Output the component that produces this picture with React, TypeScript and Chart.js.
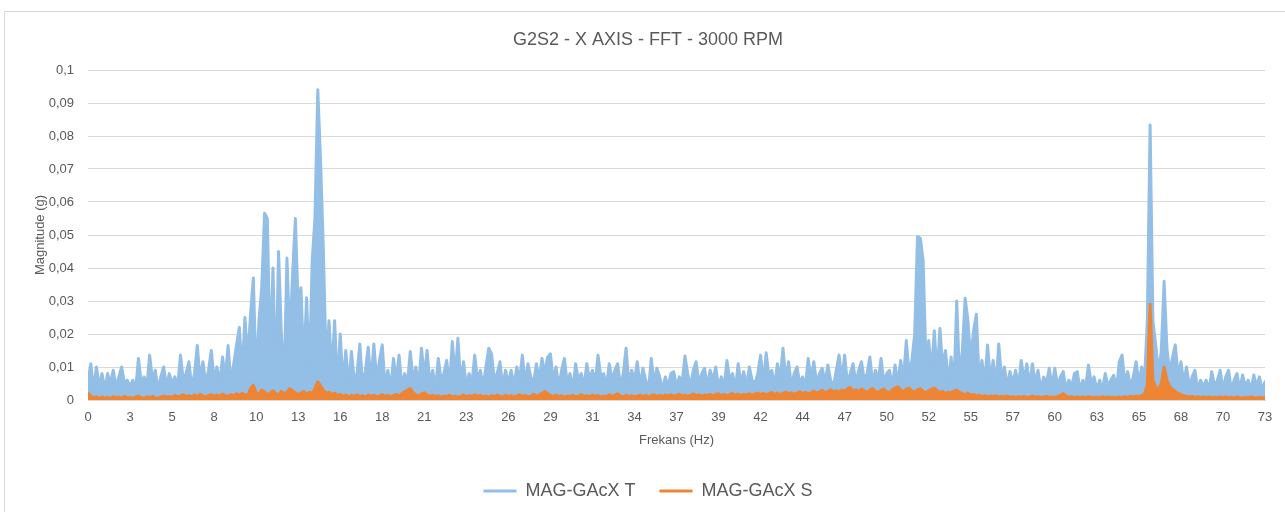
import React, { useEffect, useRef } from 'react';
import { Chart, registerables } from 'chart.js';

Chart.register(...registerables);

const TITLE = 'G2S2 - X AXIS - FFT - 3000 RPM';
const X_TITLE = 'Frekans (Hz)';
const Y_TITLE = 'Magnitude (g)';
const SERIES_NAMES = ['MAG-GAcX T', 'MAG-GAcX S'];
const FREQ_MAX = 73;
const Y_MAX = 0.1;

const X_TICK_LABELS = ['0', '3', '5', '8', '10', '13', '16', '18', '21', '23', '26', '29', '31', '34', '37', '39', '42', '44', '47', '50', '52', '55', '57', '60', '63', '65', '68', '70', '73'];
const Y_TICK_LABELS = ['0', '0,01', '0,02', '0,03', '0,04', '0,05', '0,06', '0,07', '0,08', '0,09', '0,1'];

// MAG-GAcX T : FFT magnitude (g), bins evenly spread over 0..73 Hz
const MAG_T = [
  0.006, 0.011, 0.003, 0.010, 0.004, 0.008, 0.003, 0.008, 0.005, 0.009, 0.004, 0.007, 0.010, 0.005, 0.006, 0.004,
  0.006, 0.003, 0.0126, 0.005, 0.007, 0.004, 0.0136, 0.006, 0.009, 0.003, 0.007, 0.010, 0.004, 0.008, 0.005,
  0.007, 0.004, 0.0136, 0.006, 0.008, 0.0116, 0.004, 0.008, 0.0165, 0.006, 0.0116, 0.005, 0.009, 0.015, 0.006,
  0.010, 0.005, 0.013, 0.007, 0.0165, 0.005, 0.011, 0.0167, 0.022, 0.008, 0.025, 0.012, 0.026, 0.037, 0.006,
  0.024, 0.034, 0.0566, 0.055, 0.012, 0.040, 0.004, 0.045, 0.020, 0.006, 0.043, 0.018, 0.038, 0.055, 0.028,
  0.034, 0.010, 0.031, 0.008, 0.042, 0.0555, 0.094, 0.072, 0.045, 0.010, 0.024, 0.008, 0.024, 0.004, 0.020,
  0.005, 0.015, 0.004, 0.0147, 0.006, 0.008, 0.017, 0.004, 0.009, 0.016, 0.005, 0.017, 0.006, 0.012, 0.0167,
  0.004, 0.009, 0.003, 0.0126, 0.006, 0.0136, 0.004, 0.008, 0.005, 0.0147, 0.006, 0.010, 0.004, 0.0157, 0.007,
  0.015, 0.005, 0.009, 0.003, 0.0126, 0.006, 0.008, 0.012, 0.004, 0.0177, 0.007, 0.0187, 0.005, 0.0116, 0.004,
  0.008, 0.005, 0.0136, 0.006, 0.009, 0.004, 0.010, 0.0157, 0.014, 0.006, 0.008, 0.0116, 0.004, 0.009, 0.005,
  0.009, 0.004, 0.010, 0.006, 0.0136, 0.005, 0.011, 0.007, 0.005, 0.011, 0.006, 0.0126, 0.008, 0.013, 0.014,
  0.006, 0.010, 0.004, 0.009, 0.0126, 0.005, 0.008, 0.003, 0.011, 0.006, 0.008, 0.004, 0.011, 0.006, 0.009,
  0.005, 0.0136, 0.007, 0.008, 0.004, 0.011, 0.006, 0.009, 0.011, 0.004, 0.008, 0.0157, 0.005, 0.009, 0.006,
  0.0116, 0.004, 0.0096, 0.006, 0.003, 0.0126, 0.005, 0.0096, 0.007, 0.003, 0.007, 0.004, 0.008, 0.0086, 0.004,
  0.007, 0.005, 0.0133, 0.008, 0.004, 0.009, 0.0116, 0.005, 0.008, 0.0096, 0.004, 0.009, 0.006, 0.010, 0.004,
  0.007, 0.004, 0.012, 0.006, 0.008, 0.003, 0.011, 0.005, 0.0086, 0.004, 0.010, 0.006, 0.005, 0.008, 0.0136,
  0.005, 0.0143, 0.007, 0.009, 0.004, 0.011, 0.006, 0.0157, 0.006, 0.0116, 0.004, 0.008, 0.010, 0.005, 0.007,
  0.004, 0.0126, 0.006, 0.0116, 0.005, 0.008, 0.0096, 0.005, 0.0106, 0.006, 0.004, 0.009, 0.0136, 0.006, 0.0136,
  0.005, 0.008, 0.011, 0.005, 0.009, 0.0116, 0.006, 0.008, 0.013, 0.005, 0.009, 0.006, 0.0126, 0.005, 0.008,
  0.009, 0.004, 0.0106, 0.005, 0.012, 0.006, 0.018, 0.008, 0.012, 0.020, 0.0495, 0.049, 0.0424, 0.012, 0.018,
  0.008, 0.021, 0.007, 0.0217, 0.010, 0.015, 0.005, 0.013, 0.004, 0.030, 0.006, 0.015, 0.0308, 0.024, 0.012,
  0.021, 0.026, 0.006, 0.012, 0.005, 0.0167, 0.006, 0.012, 0.004, 0.017, 0.006, 0.010, 0.004, 0.0086, 0.005,
  0.009, 0.004, 0.012, 0.006, 0.011, 0.004, 0.011, 0.005, 0.009, 0.003, 0.007, 0.005, 0.0096, 0.004, 0.0096,
  0.004, 0.007, 0.0086, 0.003, 0.006, 0.004, 0.008, 0.0086, 0.003, 0.006, 0.004, 0.0106, 0.005, 0.007, 0.003,
  0.006, 0.003, 0.008, 0.004, 0.006, 0.0075, 0.003, 0.0116, 0.0136, 0.005, 0.0086, 0.004, 0.007, 0.0116, 0.005,
  0.010, 0.006, 0.0237, 0.0833, 0.024, 0.0167, 0.008, 0.015, 0.036, 0.0157, 0.008, 0.013, 0.0167, 0.007, 0.0116,
  0.005, 0.010, 0.004, 0.007, 0.009, 0.003, 0.006, 0.004, 0.006, 0.003, 0.0086, 0.004, 0.006, 0.009, 0.003,
  0.007, 0.009, 0.003, 0.006, 0.008, 0.003, 0.0076, 0.004, 0.006, 0.003, 0.0076, 0.004, 0.007, 0.003, 0.0055,
];

// MAG-GAcX S : FFT magnitude (g), bins evenly spread over 0..73 Hz
const MAG_S = [
  0.002, 0.0012, 0.0006, 0.001, 0.0004, 0.0009, 0.0005, 0.0008, 0.0004, 0.001, 0.0006, 0.0009, 0.0005, 0.0011, 0.0006, 0.0008,
  0.0005, 0.0009, 0.0012, 0.0007, 0.0005, 0.001, 0.0007, 0.0011, 0.0006, 0.0005, 0.0009, 0.0012, 0.0008, 0.0011, 0.0007,
  0.0014, 0.0009, 0.0012, 0.0016, 0.001, 0.0013, 0.0009, 0.0015, 0.0011, 0.0017, 0.0012, 0.0009, 0.0014, 0.0016, 0.0011,
  0.0015, 0.001, 0.0018, 0.0013, 0.0011, 0.0016, 0.0012, 0.0019, 0.0014, 0.002, 0.0016, 0.0013, 0.0035, 0.0045, 0.0022,
  0.0018, 0.003, 0.0024, 0.0016, 0.0021, 0.0028, 0.0019, 0.0015, 0.0026, 0.0018, 0.0024, 0.0034, 0.0027, 0.0022, 0.0016,
  0.0021, 0.0026, 0.0017, 0.0023, 0.002, 0.0035, 0.0055, 0.0042, 0.003, 0.0019, 0.0024, 0.0016, 0.0021, 0.0013, 0.0017,
  0.0011, 0.0015, 0.0009, 0.0014, 0.0011, 0.0016, 0.001, 0.0013, 0.0008, 0.0015, 0.0011, 0.0014, 0.0009, 0.0012, 0.0016,
  0.0011, 0.0014, 0.0009, 0.0013, 0.0017, 0.0012, 0.0019, 0.0025, 0.003, 0.0035, 0.0022, 0.0016, 0.0012, 0.0018, 0.0022,
  0.0015, 0.0011, 0.0014, 0.001, 0.0013, 0.0008, 0.0012, 0.001, 0.0014, 0.0009, 0.0012, 0.0008, 0.0011, 0.0015, 0.0009,
  0.0013, 0.001, 0.0016, 0.0011, 0.0014, 0.0009, 0.0012, 0.0008, 0.0013, 0.001, 0.0015, 0.0011, 0.0009, 0.0014, 0.001,
  0.0013, 0.0009, 0.0012, 0.0016, 0.0011, 0.0014, 0.0009, 0.0012, 0.0017, 0.0012, 0.0015, 0.002, 0.0026, 0.0019, 0.0014,
  0.001, 0.0015, 0.0009, 0.0013, 0.0008, 0.0012, 0.001, 0.0014, 0.0009, 0.0012, 0.0016, 0.001, 0.0013, 0.0009, 0.0015,
  0.0011, 0.0014, 0.0008, 0.0012, 0.001, 0.0016, 0.0011, 0.0014, 0.0019, 0.0012, 0.0009, 0.0014, 0.001, 0.0013, 0.0009,
  0.0012, 0.0015, 0.001, 0.0014, 0.0009, 0.0013, 0.0016, 0.0011, 0.0014, 0.001, 0.0015, 0.0012, 0.0016, 0.0011, 0.0014,
  0.0017, 0.0012, 0.0015, 0.001, 0.0014, 0.0018, 0.0012, 0.0016, 0.0011, 0.0015, 0.0013, 0.0017, 0.0012, 0.0016, 0.0019,
  0.0013, 0.0017, 0.0012, 0.0016, 0.002, 0.0014, 0.0018, 0.0013, 0.0017, 0.0015, 0.0019, 0.0014, 0.0018, 0.0021, 0.0016,
  0.002, 0.0015, 0.0019, 0.0023, 0.0017, 0.0021, 0.0016, 0.002, 0.0024, 0.0018, 0.0022, 0.0017, 0.0021, 0.0025, 0.0019,
  0.0023, 0.0018, 0.0022, 0.0027, 0.002, 0.0025, 0.0029, 0.0022, 0.0026, 0.0031, 0.0024, 0.0028, 0.0023, 0.003, 0.0026,
  0.0034, 0.0038, 0.0027, 0.0031, 0.0024, 0.0033, 0.0028, 0.0022, 0.003, 0.0035, 0.0026, 0.0023, 0.0029, 0.0033, 0.0025,
  0.0022, 0.0031, 0.0036, 0.004, 0.003, 0.0025, 0.0033, 0.0036, 0.0027, 0.0023, 0.0031, 0.0034, 0.0026, 0.0022, 0.0028,
  0.0033, 0.0036, 0.0028, 0.0022, 0.0026, 0.0019, 0.0024, 0.0021, 0.0027, 0.003, 0.0023, 0.0019, 0.0016, 0.0021, 0.0014,
  0.0017, 0.0012, 0.0015, 0.001, 0.0013, 0.0009, 0.0012, 0.001, 0.0013, 0.0008, 0.0011, 0.0009, 0.0012, 0.0008, 0.001,
  0.0007, 0.001, 0.0008, 0.0011, 0.0007, 0.0009, 0.0012, 0.0008, 0.001, 0.0007, 0.0009, 0.0011, 0.0007, 0.0009, 0.0008,
  0.001, 0.0014, 0.0019, 0.0012, 0.0008, 0.001, 0.0007, 0.0009, 0.0006, 0.0009, 0.0007, 0.001, 0.0008, 0.0006, 0.0009,
  0.0007, 0.001, 0.0006, 0.0009, 0.0007, 0.0008, 0.0006, 0.0009, 0.0007, 0.001, 0.0008, 0.0011, 0.0009, 0.0012, 0.001,
  0.0013, 0.0018, 0.0045, 0.029, 0.006, 0.004, 0.003, 0.005, 0.010, 0.006, 0.004, 0.0032, 0.0026, 0.002, 0.0016,
  0.0013, 0.0011, 0.0009, 0.0011, 0.0008, 0.001, 0.0007, 0.0009, 0.0006, 0.0009, 0.0007, 0.0008, 0.0006, 0.0009, 0.0007,
  0.0009, 0.0006, 0.0008, 0.0006, 0.0009, 0.0007, 0.0006, 0.0008, 0.0006, 0.0009, 0.0007, 0.0006, 0.0008, 0.0006, 0.0007,
];

const COLOR_T = '#93BEE5';
const COLOR_S = '#EE8534';
const TEXT_COLOR = '#595959';
const GRID_COLOR = '#D9D9D9';
const FONT = "'Liberation Sans', Arial, sans-serif";

const toPoints = (vals: number[]) =>
  vals.map((y, i) => ({ x: (i * FREQ_MAX) / (vals.length - 1), y }));

export default function App() {
  const canvasRef = useRef<HTMLCanvasElement | null>(null);

  useEffect(() => {
    const canvas = canvasRef.current;
    if (!canvas) return;
    const chart = new Chart(canvas, {
      type: 'line',
      data: {
        datasets: [
          {
            label: SERIES_NAMES[0],
            data: toPoints(MAG_T),
            borderColor: COLOR_T,
            backgroundColor: COLOR_T,
            borderWidth: 3,
            pointRadius: 0,
            tension: 0,
            fill: 'origin',
            borderJoinStyle: 'round',
            borderCapStyle: 'round',
            order: 2,
          },
          {
            label: SERIES_NAMES[1],
            data: toPoints(MAG_S),
            borderColor: COLOR_S,
            backgroundColor: COLOR_S,
            borderWidth: 3,
            pointRadius: 0,
            tension: 0,
            fill: 'origin',
            borderJoinStyle: 'round',
            borderCapStyle: 'round',
            order: 1,
          },
        ],
      },
      options: {
        responsive: false,
        animation: false,
        devicePixelRatio: 1,
        layout: { padding: { left: 31, right: 20, top: 0, bottom: 2 } },
        plugins: {
          title: {
            display: true,
            text: TITLE,
            color: TEXT_COLOR,
            font: { family: FONT, size: 18, weight: 'normal' },
            padding: { top: 29.2, bottom: 19.2 },
          },
          legend: {
            position: 'bottom',
            labels: {
              usePointStyle: true,
              pointStyle: 'line',
              pointStyleWidth: 33,
              padding: 24,
              color: TEXT_COLOR,
              font: { family: FONT, size: 18 },
              sort: (a: any, b: any) => a.datasetIndex - b.datasetIndex,
            },
          },
          filler: { propagate: false },
          tooltip: { enabled: false },
        },
        scales: {
          x: {
            type: 'linear',
            min: 0,
            max: FREQ_MAX,
            afterBuildTicks: (scale: any) => {
              scale.ticks = X_TICK_LABELS.map((_, i) => ({
                value: (i * FREQ_MAX) / (X_TICK_LABELS.length - 1),
              }));
            },
            afterFit: (scale: any) => {
              scale.height = 58;
            },
            grid: { display: false, drawTicks: false },
            border: { display: true, color: GRID_COLOR },
            ticks: {
              autoSkip: false,
              maxRotation: 0,
              padding: 10,
              color: TEXT_COLOR,
              font: { family: FONT, size: 13 },
              callback: (_v: any, i: number) => X_TICK_LABELS[i],
            },
            title: {
              display: true,
              text: X_TITLE,
              color: TEXT_COLOR,
              font: { family: FONT, size: 13 },
              padding: { top: 0, bottom: 10.2 },
            },
          },
          y: {
            type: 'linear',
            min: 0,
            max: Y_MAX,
            afterBuildTicks: (scale: any) => {
              scale.ticks = Y_TICK_LABELS.map((_, i) => ({
                value: (i * Y_MAX) / (Y_TICK_LABELS.length - 1),
              }));
            },
            afterFit: (scale: any) => {
              scale.width = 57;
            },
            grid: { color: GRID_COLOR, drawTicks: false },
            border: { display: false },
            ticks: {
              padding: 14,
              color: TEXT_COLOR,
              font: { family: FONT, size: 13 },
              callback: (_v: any, i: number) => Y_TICK_LABELS[i],
            },
            title: {
              display: true,
              text: Y_TITLE,
              color: TEXT_COLOR,
              font: { family: FONT, size: 13 },
              padding: { top: 1.2, bottom: 0 },
            },
          },
        },
      } as any,
    });
    return () => chart.destroy();
  }, []);

  return (
    <div
      style={{
        position: 'fixed',
        left: 0,
        top: 0,
        width: 1285,
        height: 512,
        background: '#ffffff',
        overflow: 'hidden',
      }}
    >
      <div
        style={{
          position: 'absolute',
          left: 4,
          top: 11,
          width: 1300,
          height: 520,
          border: '1px solid #D9D9D9',
          boxSizing: 'border-box',
          pointerEvents: 'none',
        }}
      />
      <canvas
        ref={canvasRef}
        width={1285}
        height={512}
        style={{ position: 'absolute', left: 0, top: 0, display: 'block' }}
      />
    </div>
  );
}
